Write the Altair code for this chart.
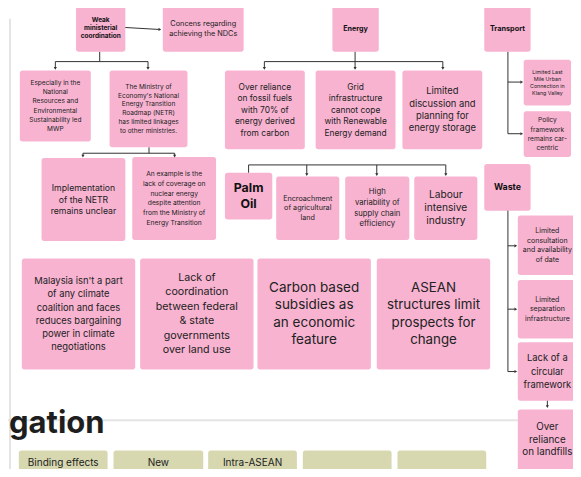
import altair as alt
import pandas as pd

# ---------------- content ----------------
PINK = "#f8b3d1"
OLIVE = "#d7d8b0"

box_text = [
    ["Weak", "ministerial", "coordination"],
    ["Concens regarding", "achieving the NDCs"],
    ["Energy"],
    ["Transport"],
    ["Especially in the", "National", "Resources and", "Environmental", "Sustainability led", "MWP"],
    ["The Ministry of", "Economy's National", "Energy Transition", "Roadmap (NETR)", "has limited linkages", "to other ministries."],
    ["Over reliance", "on fossil fuels", "with 70% of", "energy derived", "from carbon"],
    ["Grid", "infrastructure", "cannot cope", "with Renewable", "Energy demand"],
    ["Limited", "discussion and", "planning for", "energy storage"],
    ["Limited Last", "Mile Urban", "Connection in", "Klang Valley"],
    ["Policy", "framework", "remains car-", "centric"],
    ["Implementation", "of the NETR", "remains unclear"],
    ["An example is the", "lack of coverage on", "nuclear energy", "despite attention", "from the Ministry of", "Energy Transition"],
    ["Palm", "Oil"],
    ["Encroachment", "of agricultural", "land"],
    ["High", "variability of", "supply chain", "efficiency"],
    ["Labour", "intensive", "industry"],
    ["Waste"],
    ["Limited", "consultation", "and availability", "of date"],
    ["Limited", "separation", "infrastructure"],
    ["Lack of a", "circular", "framework"],
    ["Over", "reliance", "on landfills"],
    ["Malaysia isn't a part", "of any climate", "coalition and faces", "reduces bargaining", "power in climate", "negotiations"],
    ["Lack of", "coordination", "between federal", "& state", "governments", "over land use"],
    ["Carbon based", "subsidies as", "an economic", "feature"],
    ["ASEAN", "structures limit", "prospects for", "change"],
    ["Binding effects"],
    ["New"],
    ["Intra-ASEAN"],
    [""],
    [""],
]
box_bold = [True, False, True, True] + [False] * 9 + [True] + [False] * 3 + [True] + [False] * 13
box_fill = [PINK] * 26 + [OLIVE] * 5

# board layout of each note (board pixel units): left, right, top, bottom
box_x0 = [73, 161, 333, 487, 16, 107, 224, 316, 404, 527, 527, 38, 130, 224, 276, 346, 416, 487,
          521, 521, 521, 521, 18, 138, 257, 378, 15, 111, 207, 303, 399]
box_x1 = [123, 243, 380, 534, 88, 186, 305, 397, 485, 575, 575, 123, 215, 272, 340, 411, 480, 534,
          583, 583, 583, 587, 133, 253, 372, 493, 105, 202, 297, 393, 489]
box_y0 = [0, 2, 2, 2, 68, 68, 68, 68, 68, 57, 110, 158, 157, 173, 177, 177, 177, 164,
          217, 283, 347, 416, 261, 261, 261, 261, 458, 458, 458, 458, 458]
box_y1 = [49, 49, 49, 49, 141, 147, 149, 149, 149, 104, 157, 243, 242, 221, 242, 242, 242, 212,
          278, 343, 407, 480, 375, 375, 375, 375, 505, 505, 505, 505, 505]
font_px = [6.5, 7.3, 7.2, 7.3, 6.5, 6.5, 8.4, 8.4, 9.4, 5.3, 6.6, 8.7, 6.7, 12.4, 7.2, 7.7, 10.2, 8.8,
           7, 7, 9.4, 9.8, 9.4, 10.7, 13.5, 13.3, 10, 10, 10, 10, 10]
line_px = [8.5, 10, 9, 9, 9.6, 9, 11.8, 11.8, 12.6, 7.3, 9.5, 12, 9.9, 17, 10, 11, 13.5, 10,
           9.7, 9.6, 13.5, 13, 13.4, 14.8, 17.7, 17.7, 13, 13, 13, 13, 13]

# connectors: x, y -> x2, y2
seg_x = [97, 52, 52, 146, 123, 147, 80, 80, 173, 356, 264, 264, 445, 511, 511, 511,
         248, 248, 307, 378, 448, 511, 511, 511, 511, 551]
seg_y = [49, 59, 59, 59, 24, 147, 153, 153, 153, 49, 59, 59, 59, 49, 80, 133,
         173, 165, 165, 165, 165, 212, 377, 248, 313, 407]
seg_x2 = [97, 146, 52, 146, 157, 147, 173, 80, 173, 356, 445, 264, 445, 511, 524, 524,
          248, 448, 307, 378, 448, 511, 518, 518, 518, 551]
seg_y2 = [59, 59, 66, 66, 26, 153, 153, 155, 155, 66, 59, 66, 66, 133, 80, 133,
          165, 165, 175, 175, 175, 377, 377, 248, 313, 413]

down_x = [52, 146, 80, 173, 264, 356, 445, 307, 378, 448, 551]
down_y = [66, 66, 156, 156, 66, 66, 66, 175, 175, 175, 413]
right_x = [158, 525, 525, 519, 519, 519]
right_y = [26, 80, 133, 248, 313, 377]

grey_x = [6, 0]
grey_y = [15, 427]
grey_x2 = [6, 521]
grey_y2 = [480, 427]

heading = "gation"

# ---------------- tables ----------------
boxes = pd.DataFrame({"x0": box_x0, "x1": box_x1, "y0": box_y0, "y1": box_y1, "fill": box_fill})

rows = []
for i, lines in enumerate(box_text):
    cx = (box_x0[i] + min(box_x1[i], 581)) / 2
    if box_fill[i] == OLIVE:
        cy = 470.5
    else:
        cy = (box_y0[i] + min(box_y1[i], 478)) / 2
    n = len(lines)
    for j, t in enumerate(lines):
        if t:
            rows.append({"x": cx, "y": cy + (j - (n - 1) / 2) * line_px[i], "t": t,
                         "fs": font_px[i], "bold": box_bold[i]})
texts = pd.DataFrame(rows)

segs = pd.DataFrame({"x": seg_x, "y": seg_y, "x2": seg_x2, "y2": seg_y2})
downs = pd.DataFrame({"x": down_x, "y": down_y})
rights = pd.DataFrame({"x": right_x, "y": right_y})
greys = pd.DataFrame({"x": grey_x, "y": grey_y, "x2": grey_x2, "y2": grey_y2})
head = pd.DataFrame({"x": [5], "y": [440], "t": [heading]})

W, H = 565, 461
xs = alt.Scale(domain=[4, 577], nice=False, zero=False)
ys = alt.Scale(domain=[4, 477], nice=False, zero=False, reverse=True)
X = lambda f: alt.X(f, type="quantitative", scale=xs, axis=None)
Y = lambda f: alt.Y(f, type="quantitative", scale=ys, axis=None)

grey_layer = alt.Chart(greys).mark_rule(color="#e4e4e4", strokeWidth=2).encode(
    x=X("x"), y=Y("y"), x2="x2", y2="y2")

rect_layer = alt.Chart(boxes).mark_rect(cornerRadius=2.5).encode(
    x=X("x0"), x2="x1", y=Y("y0"), y2="y1",
    color=alt.Color("fill:N", scale=None))

seg_layer = alt.Chart(segs).mark_rule(color="#333333", strokeWidth=1).encode(
    x=X("x"), y=Y("y"), x2="x2", y2="y2")

down_layer = alt.Chart(downs).mark_point(shape="triangle-down", filled=True, size=10,
                                         color="#333333", opacity=1).encode(x=X("x"), y=Y("y"))
right_layer = alt.Chart(rights).mark_point(shape="triangle-right", filled=True, size=10,
                                           color="#333333", opacity=1).encode(x=X("x"), y=Y("y"))

FONT = "Inter"
txt_norm = alt.Chart(texts).transform_filter("!datum.bold").mark_text(
    font=FONT, color="#222222", align="center", baseline="middle").encode(
    x=X("x"), y=Y("y"), text="t:N", size=alt.Size("fs:Q", scale=None))
txt_bold = alt.Chart(texts).transform_filter("datum.bold").mark_text(
    font=FONT, fontWeight="bold", color="#111111", align="center", baseline="middle").encode(
    x=X("x"), y=Y("y"), text="t:N", size=alt.Size("fs:Q", scale=None))

head_layer = alt.Chart(head).mark_text(
    font=FONT, fontWeight="bold", fontSize=31, color="#1e1e1e", align="left",
    baseline="alphabetic").encode(x=X("x"), y=Y("y"), text="t:N")

chart = alt.layer(grey_layer, rect_layer, seg_layer, down_layer, right_layer,
                  txt_norm, txt_bold, head_layer).properties(
    width=W, height=H, padding=0, autosize=alt.AutoSizeParams(type="none"),
    background="white"
).configure_view(stroke=None)

chart.save("out.html", embed_options={"renderer": "svg", "actions": False})
